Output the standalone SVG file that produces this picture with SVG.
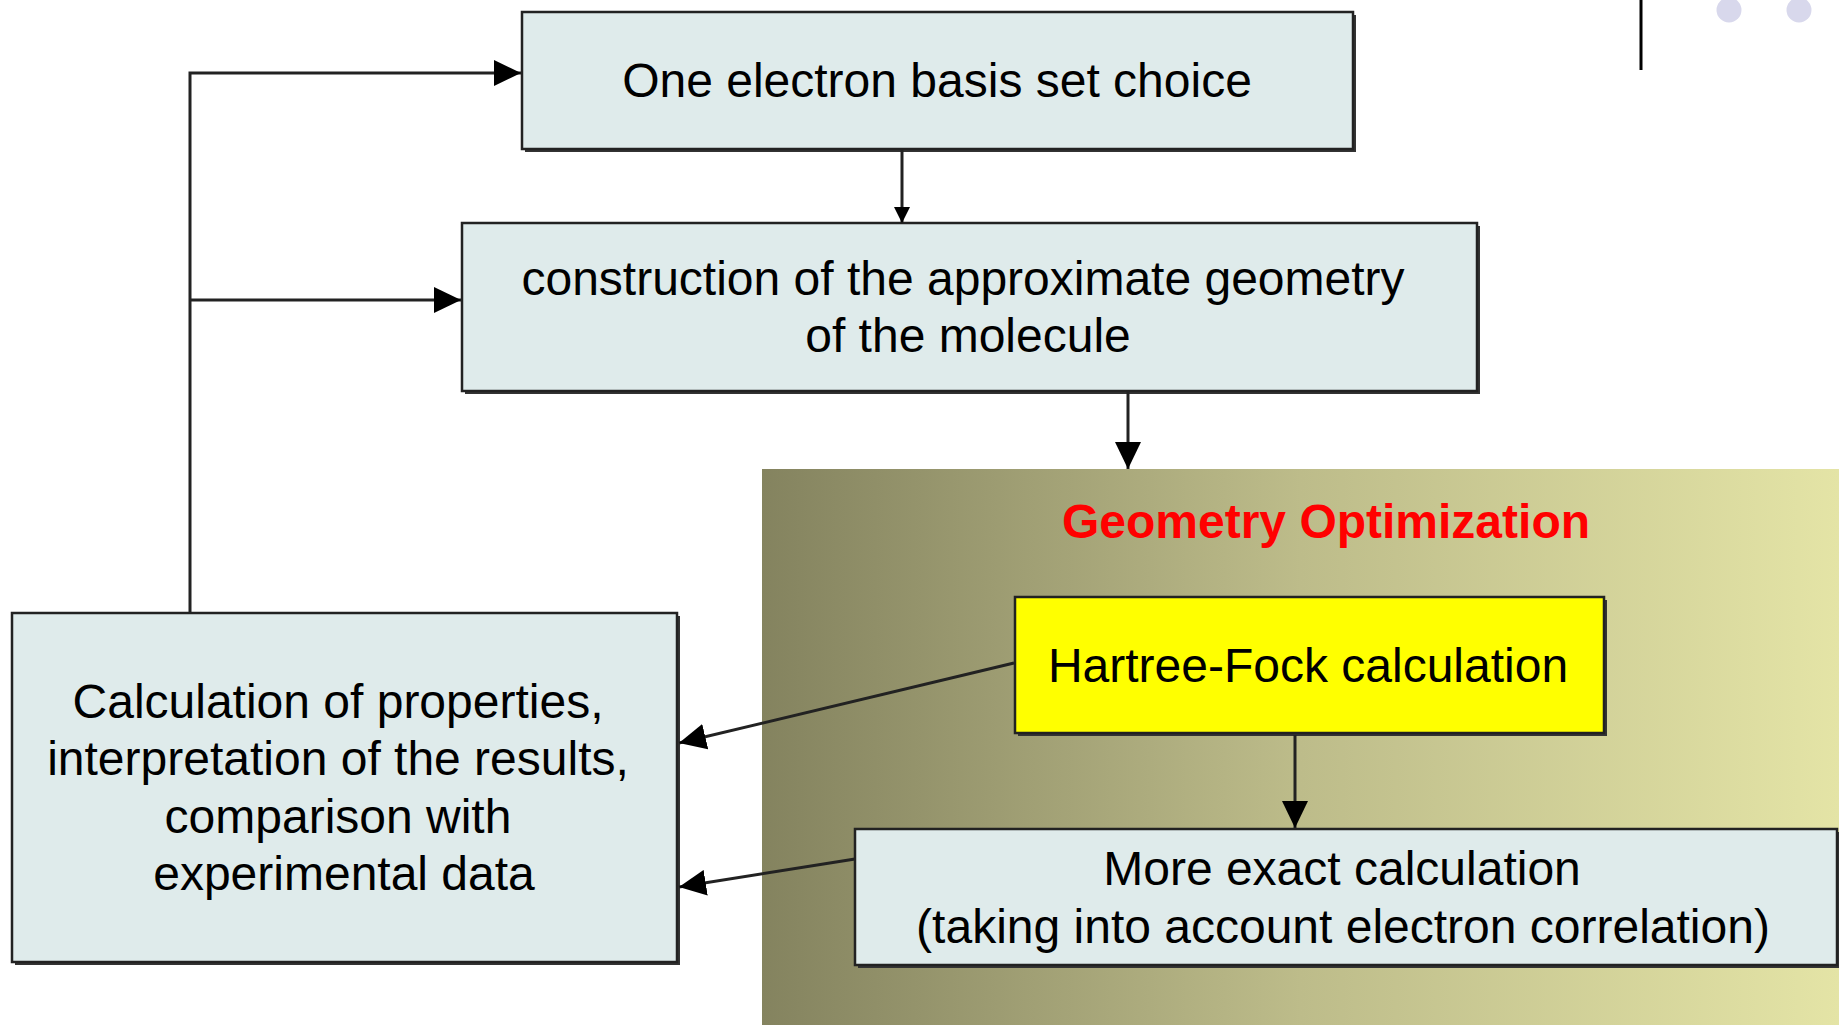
<svg xmlns="http://www.w3.org/2000/svg" width="1839" height="1025" viewBox="0 0 1839 1025">
  <style>
    .box { fill: #DFEBEB; stroke: #222; stroke-width: 2.5; }
    .hf { fill: #FFFF00; stroke: #222; stroke-width: 2.5; }
    .shadow { fill: #333; }
    .t { font-family: "Liberation Sans", Arial, sans-serif; font-size: 48px; fill: #000; text-anchor: middle; }
    .title { font-family: "Liberation Sans", Arial, sans-serif; font-size: 48px; font-weight: bold; fill: #FF0000; text-anchor: middle; }
    .conn { fill: none; stroke: #222; stroke-width: 3; }
  </style>
  <defs>
    <linearGradient id="olive" x1="0" y1="0" x2="1" y2="0">
      <stop offset="0" stop-color="#84835F"/>
      <stop offset="0.5" stop-color="#BDBC8A"/>
      <stop offset="1" stop-color="#E4E4A6"/>
    </linearGradient>
    <marker id="arr" markerUnits="userSpaceOnUse" markerWidth="27" markerHeight="26" refX="27" refY="13" orient="auto">
      <path d="M0,0 L27,13 L0,26 z" fill="#000"/>
    </marker>
    <marker id="arrs" markerUnits="userSpaceOnUse" markerWidth="16" markerHeight="16" refX="16" refY="8" orient="auto">
      <path d="M0,0 L16,8 L0,16 z" fill="#000"/>
    </marker>
  </defs>

  <rect width="1839" height="1025" fill="#FFFFFF"/>

  <g id="decor">
    <line x1="1641" y1="0" x2="1641" y2="70" stroke="#000" stroke-width="3"/>
    <circle cx="1729" cy="10" r="12.5" fill="#D8D8EC"/>
    <circle cx="1799" cy="10" r="12.5" fill="#D8D8EC"/>
  </g>

  <g id="geometry-optimization">
    <rect x="762" y="469" width="1077" height="556" fill="url(#olive)"/>
    <text class="title" x="1326" y="538">Geometry Optimization</text>
  </g>

  <g id="basis-set">
    <rect class="shadow" x="525" y="15" width="831" height="137"/>
    <rect class="box" x="522" y="12" width="831" height="137"/>
    <text class="t" x="937" y="97">One electron basis set choice</text>
  </g>

  <g id="geometry-construction">
    <rect class="shadow" x="465" y="226" width="1015" height="168"/>
    <rect class="box" x="462" y="223" width="1015" height="168"/>
    <text class="t" x="963" y="295">construction of the approximate geometry</text>
    <text class="t" x="968" y="352">of the molecule</text>
  </g>

  <g id="hartree-fock">
    <rect class="shadow" x="1018" y="600" width="589" height="136"/>
    <rect class="hf" x="1015" y="597" width="589" height="136"/>
    <text class="t" x="1308" y="682">Hartree-Fock calculation</text>
  </g>

  <g id="exact-calculation">
    <rect class="shadow" x="858" y="832" width="981" height="136"/>
    <rect class="box" x="855" y="829" width="982" height="136"/>
    <text class="t" x="1342" y="885">More exact calculation</text>
    <text class="t" x="1343" y="943">(taking into account electron correlation)</text>
  </g>

  <g id="properties">
    <rect class="shadow" x="15" y="616" width="665" height="349"/>
    <rect class="box" x="12" y="613" width="665" height="349"/>
    <text class="t" x="338" y="718">Calculation of properties,</text>
    <text class="t" x="338" y="775">interpretation of the results,</text>
    <text class="t" x="338" y="833">comparison with</text>
    <text class="t" x="344" y="890">experimental data</text>
  </g>

  <g id="connectors">
    <line class="conn" x1="902" y1="150" x2="902" y2="223" marker-end="url(#arrs)"/>
    <line class="conn" x1="1128" y1="392" x2="1128" y2="469" marker-end="url(#arr)"/>
    <line class="conn" x1="1295" y1="735" x2="1295" y2="828" marker-end="url(#arr)"/>
    <line class="conn" x1="1014" y1="663" x2="679" y2="743" marker-end="url(#arr)"/>
    <line class="conn" x1="855" y1="859" x2="679" y2="887" marker-end="url(#arr)"/>
    <path class="conn" d="M190,613 L190,73 L521,73" marker-end="url(#arr)"/>
    <line class="conn" x1="190" y1="300" x2="461" y2="300" marker-end="url(#arr)"/>
  </g>
</svg>
